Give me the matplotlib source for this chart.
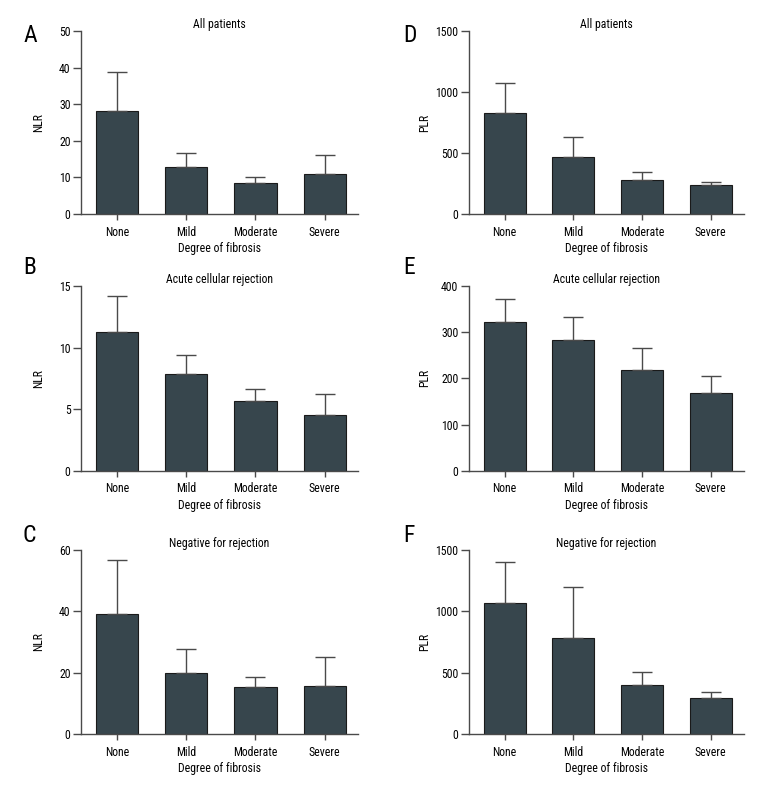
import matplotlib
matplotlib.use("Agg")
import matplotlib.pyplot as plt

plt.rcParams['font.family'] = ['Roboto Condensed', 'DejaVu Sans']
plt.rcParams['font.stretch'] = 'condensed'

categories = ['None', 'Mild', 'Moderate', 'Severe']

# NLR / PLR means and upper error bars
nlr_all = [28.1, 12.8, 8.5, 10.9]
nlr_all_err = [10.6, 4.0, 1.7, 5.1]
nlr_acr = [11.3, 7.85, 5.64, 4.55]
nlr_acr_err = [2.85, 1.55, 1.02, 1.7]
nlr_neg = [39.1, 19.8, 15.2, 15.6]
nlr_neg_err = [17.6, 8.0, 3.5, 9.5]

plr_all = [830, 465, 280, 238]
plr_all_err = [242, 166, 63, 28]
plr_acr = [323, 282, 219, 168]
plr_acr_err = [49, 50, 47, 38]
plr_neg = [1065, 785, 400, 293]
plr_neg_err = [337, 411, 102, 47]

titles = ['All patients', 'Acute cellular rejection', 'Negative for rejection']
letters_left = ['A', 'B', 'C']
letters_right = ['D', 'E', 'F']
nlr_lims = [(50, 10), (15, 5), (60, 20)]
plr_lims = [(1500, 500), (400, 100), (1500, 500)]

bar_color = '#37464d'
axis_color = '#4a4a4a'

W, H = 780, 792
fig = plt.figure(figsize=(7.8, 7.92), dpi=100)

rows = [(0.7298, 0.231), (0.4057, 0.2332), (0.0732, 0.2323)]
cols = [(0.1038, 0.355), (0.601, 0.3526)]
letter_y = [35.5, 268, 535]  # pixel rows of the panel letters
letter_x = [23, 403]

nlr_data = [(nlr_all, nlr_all_err), (nlr_acr, nlr_acr_err), (nlr_neg, nlr_neg_err)]
plr_data = [(plr_all, plr_all_err), (plr_acr, plr_acr_err), (plr_neg, plr_neg_err)]

fs = 8.5


def draw_panel(ax, vals, errs, ylab, top, step, title, lab_x):
    x = range(len(categories))
    ax.bar(x, vals, width=0.61, color=bar_color, edgecolor='#1a1a1a', linewidth=0.8,
           yerr=[[0] * len(errs), errs], capsize=7,
           error_kw=dict(ecolor=axis_color, elinewidth=1.0, capthick=1.0), zorder=2)
    ax.set_xlim(-0.52, 3.48)
    ax.set_ylim(0, top)
    ax.set_yticks(range(0, top + 1, step))
    ax.set_xticks(list(x))
    ax.set_xticklabels(categories)
    for s in ['top', 'right']:
        ax.spines[s].set_visible(False)
    for s in ['left', 'bottom']:
        ax.spines[s].set_color(axis_color)
        ax.spines[s].set_linewidth(1.0)
    ax.tick_params(axis='y', length=6, width=1, color=axis_color, labelsize=fs, pad=1.5)
    ax.tick_params(axis='x', length=4, width=1, color=axis_color, labelsize=fs, pad=4.5)
    ax.set_ylabel(ylab, fontsize=fs)
    ax.yaxis.set_label_coords(lab_x, 0.5)
    ax.set_xlabel('Degree of fibrosis', fontsize=fs, labelpad=2.5)
    ax.set_title(title, fontsize=fs, pad=1.5)


for i in range(3):
    b, h = rows[i]
    axl = fig.add_axes([cols[0][0], b, cols[0][1], h])
    draw_panel(axl, nlr_data[i][0], nlr_data[i][1], 'NLR', nlr_lims[i][0], nlr_lims[i][1],
               titles[i], -0.13)
    axr = fig.add_axes([cols[1][0], b, cols[1][1], h])
    draw_panel(axr, plr_data[i][0], plr_data[i][1], 'PLR', plr_lims[i][0], plr_lims[i][1],
               titles[i], -0.138)
    fig.text(letter_x[0] / W, 1 - letter_y[i] / H, letters_left[i], fontsize=17,
             va='center', ha='left')
    fig.text(letter_x[1] / W, 1 - letter_y[i] / H, letters_right[i], fontsize=17,
             va='center', ha='left')

fig.savefig('out.png', dpi=100, facecolor='white')
